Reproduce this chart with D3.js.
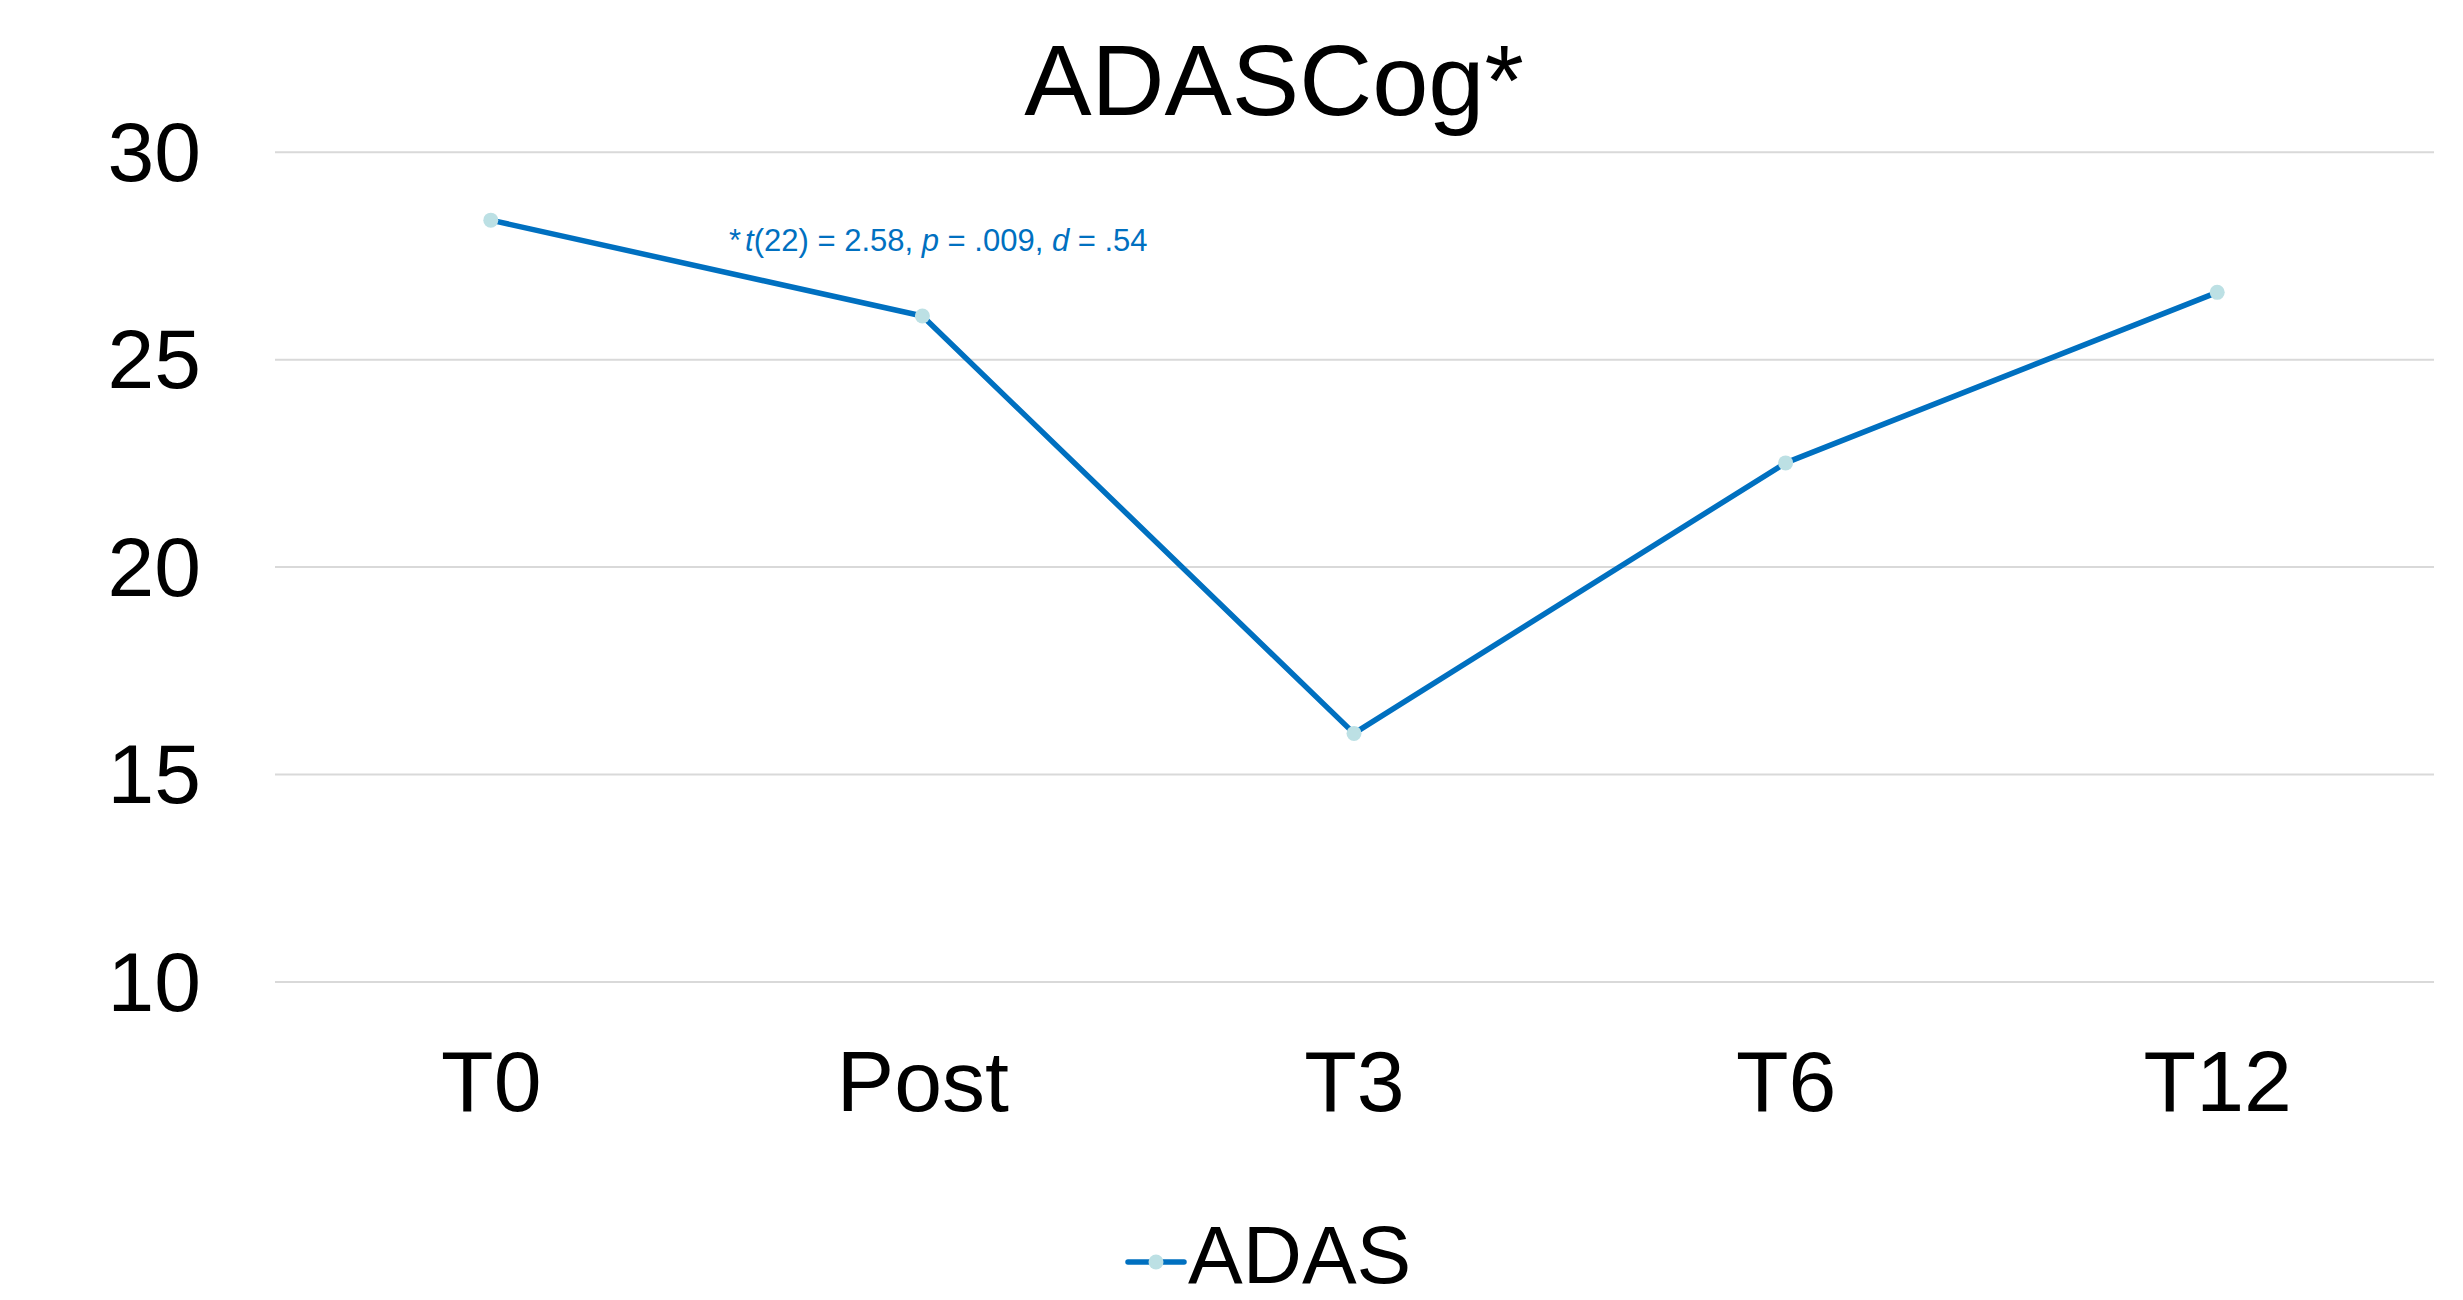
<!DOCTYPE html>
<html>
<head>
<meta charset="utf-8">
<script src="https://cdn.jsdelivr.net/npm/d3@7/dist/d3.min.js"></script>
<style>
  html, body { margin: 0; padding: 0; background: #fff; }
  svg { display: block; font-family: "Liberation Sans", Arial, sans-serif; }
</style>
</head>
<body>
<svg id="chart" width="2463" height="1300"></svg>
<script>
const categories = ["T0", "Post", "T3", "T6", "T12"];
const adasValues = [28.35, 26.04, 15.98, 22.5, 26.61];
const yTicks = [10, 15, 20, 25, 30];
const seriesName = "ADAS";
const chartTitle = "ADASCog*";

const W = 2463, H = 1300;
const plot = { left: 275, right: 2434, top: 151.7, bottom: 981.5 };
const catRange = [275, 2433];
const lineColor = "#0070C0";
const markerColor = "#BCE0E4";

const svg = d3.select("#chart");

const x = d3.scalePoint().domain(categories).range(catRange).padding(0.5);
const y = d3.scaleLinear().domain([10, 30]).range([plot.bottom, plot.top]);

// gridlines + y labels
const yAxis = svg.append("g")
  .attr("transform", `translate(${plot.left},0)`)
  .call(d3.axisLeft(y).tickValues(yTicks).tickSize(-(plot.right - plot.left)).tickPadding(74).tickFormat(d3.format("d")));
yAxis.select(".domain").remove();
yAxis.selectAll(".tick line").attr("stroke", "#D9D9D9").attr("stroke-width", 2);
yAxis.selectAll(".tick text")
  .attr("fill", "#000").attr("font-size", 84)
  .attr("font-family", "Liberation Sans, Arial, sans-serif")
  .attr("dy", "0.34em");

// x labels
const xAxis = svg.append("g")
  .attr("transform", `translate(0,${plot.bottom})`)
  .call(d3.axisBottom(x).tickSize(0).tickPadding(0));
xAxis.select(".domain").remove();
xAxis.selectAll(".tick text")
  .attr("fill", "#000").attr("font-size", 86)
  .attr("font-family", "Liberation Sans, Arial, sans-serif")
  .attr("dy", null)
  .attr("y", 1111 - plot.bottom);

// line
const line = d3.line().x((d, i) => x(categories[i])).y(d => y(d));
svg.append("path")
  .datum(adasValues)
  .attr("fill", "none")
  .attr("stroke", lineColor)
  .attr("stroke-width", 5.5)
  .attr("stroke-linejoin", "round")
  .attr("stroke-linecap", "round")
  .attr("d", line);

svg.selectAll("circle.pt")
  .data(adasValues)
  .enter().append("circle")
  .attr("class", "pt")
  .attr("cx", (d, i) => x(categories[i]))
  .attr("cy", d => y(d))
  .attr("r", 7.5)
  .attr("fill", markerColor);

// title
svg.append("text")
  .attr("x", 1274).attr("y", 115)
  .attr("text-anchor", "middle")
  .attr("font-size", 101)
  .attr("fill", "#000")
  .text(chartTitle);

// annotation
const ann = svg.append("text")
  .attr("x", 729).attr("y", 251)
  .attr("font-size", 31)
  .attr("fill", lineColor);
ann.append("tspan").text("*");
ann.append("tspan").attr("font-style", "italic").attr("dx", 4).text("t");
ann.append("tspan").text("(22) = 2.58, ");
ann.append("tspan").attr("font-style", "italic").text("p");
ann.append("tspan").text(" = .009, ");
ann.append("tspan").attr("font-style", "italic").text("d");
ann.append("tspan").text(" = .54");

// legend
const lg = svg.append("g");
lg.append("line")
  .attr("x1", 1128).attr("x2", 1184).attr("y1", 1262).attr("y2", 1262)
  .attr("stroke", lineColor).attr("stroke-width", 5.5).attr("stroke-linecap", "round");
lg.append("circle").attr("cx", 1156).attr("cy", 1262).attr("r", 7.5).attr("fill", markerColor);
lg.append("text")
  .attr("x", 1188).attr("y", 1283)
  .attr("font-size", 82)
  .attr("fill", "#000")
  .text(seriesName);
</script>
</body>
</html>
